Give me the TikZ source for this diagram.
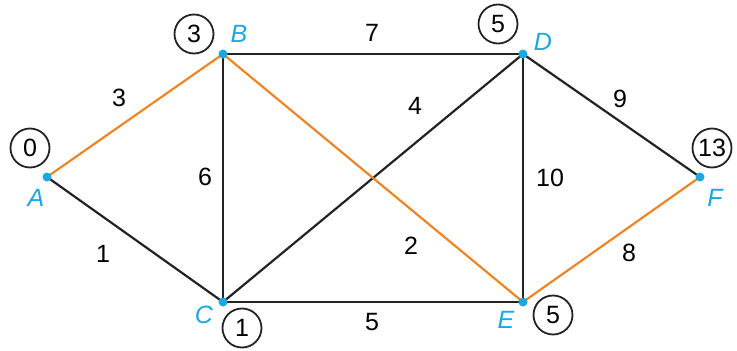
\documentclass[tikz,border=0pt]{standalone}
\usepackage{fontspec}
\setmainfont{Liberation Sans}
\usetikzlibrary{backgrounds}
\definecolor{vblue}{RGB}{27,167,224}
\definecolor{bestpath}{RGB}{237,133,38}
\definecolor{edgegray}{RGB}{35,35,35}

\begin{document}
\begin{tikzpicture}[x=1pt, y=-1pt,
    every node/.style={font=\fontsize{25}{30}\selectfont},
    vtx/.style={circle, fill=vblue, inner sep=0pt, minimum size=9pt},
    vname/.style={text=vblue, font=\fontsize{25}{30}\selectfont\itshape},
    dist/.style={circle, draw=edgegray, line width=1.8pt, minimum size=39pt, inner sep=0pt},
    wt/.style={inner sep=1pt},
    edge/.style={line width=2.2pt, draw=edgegray},
    best/.style={line width=2.2pt, draw=bestpath}]

  \useasboundingbox (0,0) rectangle (737,351);

  % vertices
  \node[vtx] (A) at (47,177) {};
  \node[vtx] (B) at (223,54) {};
  \node[vtx] (C) at (223,302) {};
  \node[vtx] (D) at (523,54) {};
  \node[vtx] (E) at (523,302) {};
  \node[vtx] (F) at (700,177) {};

  \node[vname] (lA) at (36,198) {A};
  \node[vname] (lB) at (239,34) {B};
  \node[vname] (lC) at (204,315) {C};
  \node[vname] (lD) at (543,42) {D};
  \node[vname] (lE) at (506,320) {E};
  \node[vname] (lF) at (715,198) {F};

  % distances
  \node[dist] (dA) at (30,148) {0};
  \node[dist] (dB) at (194,34) {3};
  \node[dist] (dC) at (242,328) {1};
  \node[dist] (dD) at (498,24) {5};
  \node[dist] (dE) at (553,315) {5};
  \node[dist] (dF) at (712,148) {13};

  % weights
  \node[wt] (wAB) at (119,98) {3};
  \node[wt] (wBD) at (372,33) {7};
  \node[wt] (wCD) at (415,106) {4};
  \node[wt] (wDF) at (620,99) {9};
  \node[wt] (wBC) at (205,177) {6};
  \node[wt] (wDE) at (550,178) {10};
  \node[wt] (wAC) at (103,254) {1};
  \node[wt] (wBE) at (411,246) {2};
  \node[wt] (wEF) at (629,253) {8};
  \node[wt] (wCE) at (372,322) {5};

  \begin{scope}[on background layer]
    \draw[edge] (A.center) -- (C.center);
    \draw[edge] (B.center) -- (C.center);
    \draw[edge] (B.center) -- (D.center);
    \draw[edge] (C.center) -- (D.center);
    \draw[edge] (C.center) -- (E.center);
    \draw[edge] (D.center) -- (E.center);
    \draw[edge] (D.center) -- (F.center);
    \draw[best] (A.center) -- (B.center);
    \draw[best] (B.center) -- (E.center);
    \draw[best] (E.center) -- (F.center);
  \end{scope}
\end{tikzpicture}
\end{document}
